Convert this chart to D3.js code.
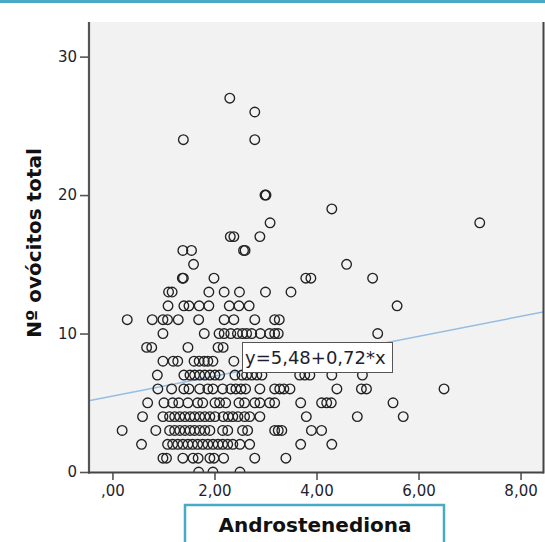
<!DOCTYPE html>
<html><head><meta charset="utf-8">
<script src="https://cdn.jsdelivr.net/npm/d3@7"></script>
<style>html,body{margin:0;padding:0;background:#fff;}svg{display:block;}</style>
</head><body>
<svg id="chart" width="545" height="542"></svg>
<script>
// ---- data ----
const xTicks = [0, 2, 4, 6, 8];
const yTicks = [0, 10, 20, 30];
const xTitle = "Androstenediona";
const yTitle = "Nº ovócitos total";
const fitIntercept = 5.48;
const fitSlope = 0.72;
const fitLabel = "y=5,48+0,72*x";
// number of oocytes (y) for each row of Androstenediona values (x)
const ovocitos = [0,1,2,3,4,5,6,7,8,9,10,11,12,13,14,15,16,17,18,19,20,24,26,27];
const androstenediona = [
  [1.69,1.97,2.50],
  [0.99,1.06,1.38,1.58,1.68,1.91,1.99,2.18,2.79,3.40],
  [0.57,1.08,1.18,1.28,1.38,1.48,1.57,1.67,1.77,1.87,1.97,2.07,2.16,2.26,2.36,2.50,2.69,3.69,4.30],
  [0.19,0.85,1.12,1.22,1.32,1.42,1.52,1.61,1.71,1.81,1.91,2.16,2.26,2.55,2.65,3.18,3.25,3.32,3.90,4.10],
  [0.59,0.99,1.12,1.22,1.32,1.42,1.52,1.61,1.71,1.81,1.91,2.01,2.17,2.27,2.36,2.46,2.59,2.69,2.89,3.80,4.80,5.70],
  [0.69,1.01,1.18,1.30,1.48,1.67,1.77,2.01,2.10,2.22,2.48,2.59,2.79,2.89,3.08,3.18,3.69,4.10,4.20,4.29,5.50],
  [0.89,1.16,1.40,1.50,1.71,1.87,1.97,2.16,2.32,2.42,2.52,2.61,2.89,3.18,3.28,3.36,3.48,4.40,4.88,4.98,6.50],
  [0.88,1.40,1.52,1.61,1.71,1.81,1.91,2.01,2.10,2.40,2.54,2.63,2.73,2.83,2.93,3.67,3.77,3.87,4.30,4.90],
  [0.99,1.19,1.28,1.60,1.70,1.80,1.87,1.97,2.38,2.70,3.00,3.30],
  [0.67,0.77,1.48,2.07,2.17,2.80,3.20],
  [0.99,1.80,2.09,2.19,2.32,2.45,2.55,2.63,2.73,2.90,3.08,3.18,3.25,5.20],
  [0.29,0.78,0.99,1.08,1.29,1.69,2.19,2.38,2.79,3.18,3.27],
  [1.09,1.40,1.50,1.70,1.89,2.29,2.48,2.68,5.58],
  [1.10,1.17,1.89,2.19,2.49,3.00,3.50],
  [1.37,1.39,1.99,3.79,3.89,5.10],
  [1.59,4.59],
  [1.38,1.55,2.57,2.60],
  [2.31,2.38,2.89],
  [3.09,7.20],
  [4.30],
  [2.99,3.01],
  [1.39,2.79],
  [2.79],
  [2.30]
];

// ---- layout ----
const svg = d3.select("#chart");
const L = 90, R = 543, T = 22, B = 472;
const x = d3.scaleLinear().domain([-0.44, 8.44]).range([L, R]);
const y = d3.scaleLinear().domain([0, 32.5]).range([B, T]);
const txtColor = "#1e1e2e";
const teal = "#4aaac6";

// top teal rule
svg.append("rect").attr("x", 0).attr("y", 0).attr("width", 545).attr("height", 3).attr("fill", teal);

// plot background
svg.append("rect").attr("x", L).attr("y", T).attr("width", R - L).attr("height", B - T).attr("fill", "#f2f2f2");

svg.append("clipPath").attr("id", "clip").append("rect")
  .attr("x", L).attr("y", T).attr("width", R - L).attr("height", B - T);

// regression line
const fitG = svg.append("g").attr("clip-path", "url(#clip)");
const xd = x.domain();
fitG.append("line")
  .attr("x1", x(xd[0])).attr("y1", y(fitIntercept + fitSlope * xd[0]))
  .attr("x2", x(xd[1])).attr("y2", y(fitIntercept + fitSlope * xd[1]))
  .attr("stroke", "#94bde3").attr("stroke-width", 1.4);

// points
const pts = [];
ovocitos.forEach((n, i) => androstenediona[i].forEach(v => pts.push({x: v, y: n})));
const ptsG = svg.append("g").attr("clip-path", "url(#clip)");
ptsG.selectAll("circle").data(pts).join("circle")
  .attr("cx", d => x(d.x)).attr("cy", d => y(d.y)).attr("r", 4.8)
  .attr("fill", "none").attr("stroke", "#222").attr("stroke-width", 1.35);

// axes
const fmtX = v => v === 0 ? ",00" : v.toFixed(2).replace(".", ",");
const xAxis = svg.append("g").attr("transform", `translate(0,${B})`)
  .call(d3.axisBottom(x).tickValues(xTicks).tickFormat(fmtX).tickSize(8).tickSizeOuter(0));
const yAxis = svg.append("g").attr("transform", `translate(${L - 1},0)`)
  .call(d3.axisLeft(y).tickValues(yTicks).tickFormat(d3.format("d")).tickSize(9).tickSizeOuter(0));
[xAxis, yAxis].forEach(g => {
  g.select(".domain").remove();
  g.selectAll(".tick line").attr("stroke", "#555").attr("stroke-width", 1.6);
  g.selectAll(".tick text").attr("fill", txtColor).style("font-family", "DejaVu Sans, sans-serif").style("font-size", "15px");
});
xAxis.selectAll(".tick text").attr("y", 13);
yAxis.selectAll(".tick text").attr("x", -12);

// frame lines
svg.append("line").attr("x1", L - 1).attr("x2", L - 1).attr("y1", T).attr("y2", B + 1.5).attr("stroke", "#555").attr("stroke-width", 2.2);
svg.append("line").attr("x1", L - 2).attr("x2", R + 1).attr("y1", B + 0.5).attr("y2", B + 0.5).attr("stroke", "#444").attr("stroke-width", 2);
svg.append("line").attr("x1", R + 0.5).attr("x2", R + 0.5).attr("y1", T).attr("y2", B + 1.5).attr("stroke", "#444").attr("stroke-width", 2);

// fit label
const lab = svg.append("g").attr("transform", "translate(242,342)");
lab.append("rect").attr("x", 0.5).attr("y", 0.5).attr("width", 150).attr("height", 30)
  .attr("fill", "#fff").attr("stroke", "#555").attr("stroke-width", 1);
lab.append("text").attr("x", 3).attr("y", 22).text(fitLabel)
  .attr("fill", txtColor).style("font-family", "DejaVu Sans, sans-serif").style("font-size", "18px");

// x title box
svg.append("rect").attr("x", 185).attr("y", 505).attr("width", 259).attr("height", 45)
  .attr("fill", "#fff").attr("stroke", teal).attr("stroke-width", 2.5);
svg.append("text").attr("x", 315).attr("y", 532).attr("text-anchor", "middle").text(xTitle)
  .attr("fill", "#111").style("font-family", "DejaVu Sans, sans-serif").style("font-weight", "bold").style("font-size", "20px");

// y title
svg.append("text").attr("transform", "translate(41,243) rotate(-90)").attr("text-anchor", "middle").text(yTitle)
  .attr("fill", "#111").style("font-family", "DejaVu Sans, sans-serif").style("font-weight", "bold").style("font-size", "20px");
</script>
</body></html>
